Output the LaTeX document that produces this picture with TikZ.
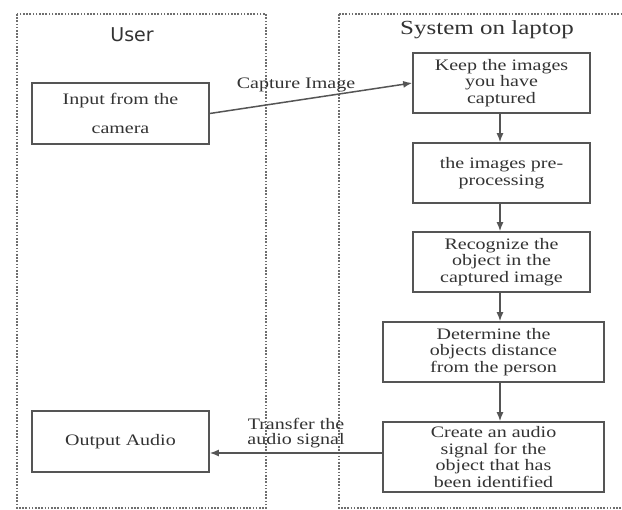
\documentclass[tikz,border=0pt]{standalone}
\usepackage{fontspec}
\setmainfont{Liberation Serif}[FakeStretch=1.25]
\newfontfamily\lanesans{DejaVu Sans}
\usetikzlibrary{arrows.meta}
\definecolor{ink}{HTML}{333333}
\definecolor{edge}{HTML}{555555}
\tikzset{
  lane/.style={draw=edge!85, line width=1.8pt, dash pattern=on 1.6pt off 1.6pt},
  procbox/.style={draw=edge, line width=1.6pt, text=ink, align=center, inner sep=0pt,
    font=\fontsize{16}{16.5}\selectfont},
  flow/.style={draw=edge, line width=1.5pt, -{Latex[length=9pt,width=7pt]}},
  lbl/.style={text=ink, font=\fontsize{16}{14.5}\selectfont, align=center}
}
\begin{document}
\begin{tikzpicture}[x=1pt,y=-1pt]
\useasboundingbox (0,0) rectangle (622,510);
\fill[white] (0,0) rectangle (622,510);
% lanes
\draw[lane] (17,14) rectangle (266,508);
\draw[lane] (339,14) -- (630,14);
\draw[lane] (339,14) -- (339,508) -- (630,508);
\node[text=ink, font=\lanesans\fontsize{19}{21}\selectfont] (userT) at (132,35) {User};
\node[text=ink, font=\fontsize{20}{22}\selectfont] (sysT) at (487,30) {System on laptop};
% boxes
\node[procbox, minimum width=177pt, minimum height=61pt] (input) at (120.5,113.5) {Input from the\\[12pt]camera};
\node[procbox, minimum width=177pt, minimum height=60pt] (keep) at (501.5,83) {Keep the images\\you have\\captured};
\node[procbox, minimum width=177pt, minimum height=60pt] (pre) at (501.5,173) {the images pre-\\processing};
\node[procbox, minimum width=177pt, minimum height=60pt] (rec) at (501.5,262) {Recognize the\\object in the\\captured image};
\node[procbox, minimum width=221pt, minimum height=60pt] (det) at (493.5,352) {Determine the\\objects distance\\from the person};
\node[procbox, minimum width=221pt, minimum height=70pt] (cre) at (493.5,457) {Create an audio\\signal for the\\object that has\\been identified};
\node[procbox, minimum width=177pt, minimum height=61pt] (out) at (120.5,441.5) {Output Audio};
% connectors
\draw[flow] (input.east) -- (keep.west);
\node[lbl] (capL) at (296,85) {Capture Image};
\draw[flow] (keep.south -| 500,0) -- (pre.north -| 500,0);
\draw[flow] (pre.south -| 500,0) -- (rec.north -| 500,0);
\draw[flow] (rec.south -| 500,0) -- (det.north -| 500,0);
\draw[flow] (det.south -| 500,0) -- (cre.north -| 500,0);
\draw[flow] (cre.west |- 0,453) -- (out.east |- 0,453);
\node[lbl, align=center] (trL) at (296,433) {Transfer the\\audio signal};
\end{tikzpicture}
\end{document}
